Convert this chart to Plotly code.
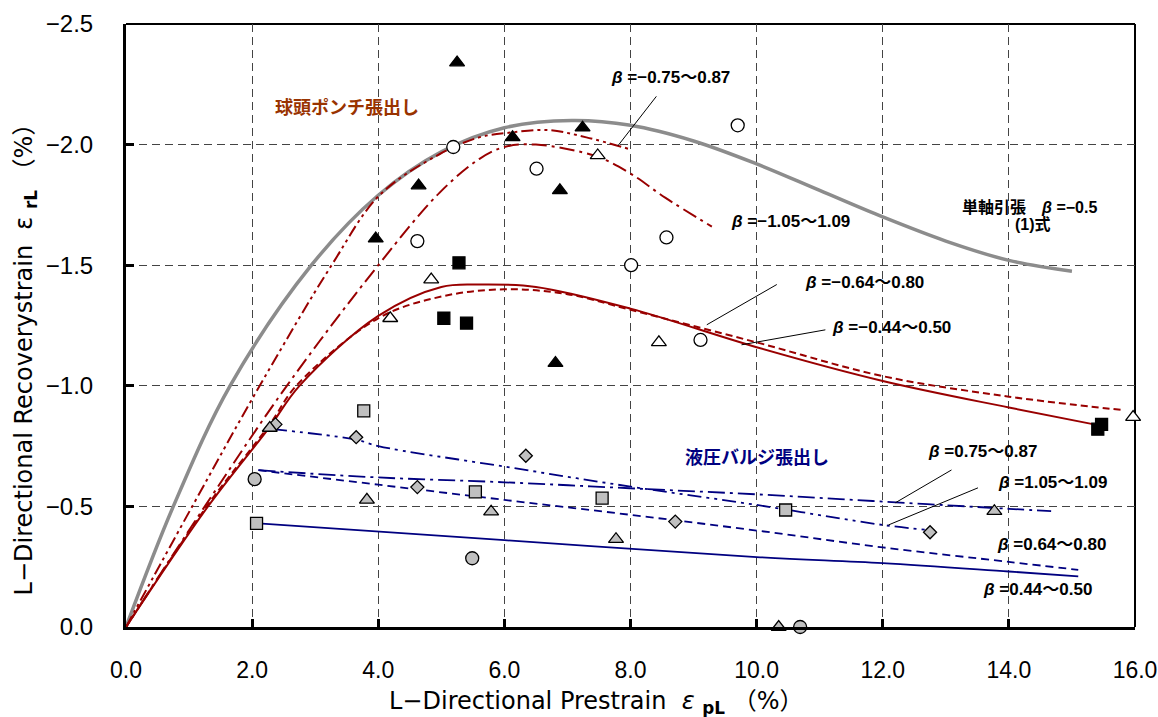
import plotly.graph_objects as go

# ---------------- curves (prestrain %, recovery strain %) ----------------
# uniaxial tension, eq.(1), beta = -0.5
uni_x = [0.0, 0.75, 1.65, 2.94, 4.0, 5.0, 6.0, 7.07, 8.0, 9.0, 10.0, 11.0, 12.0, 13.0, 14.0, 15.0]
uni_y = [0.0, -0.5, -1.0, -1.5, -1.79, -1.97, -2.07, -2.10, -2.08, -2.015, -1.92, -1.81, -1.70, -1.60, -1.52, -1.475]

# punch stretching, beta = -0.75..0.87 (dash-dot-dot)
p075_x = [0.0, 1.05, 2.12, 3.26, 4.02, 4.97, 5.6, 6.1, 6.7, 7.3, 8.0]
p075_y = [0.0, -0.5, -1.0, -1.5, -1.79, -1.96, -2.03, -2.05, -2.06, -2.03, -1.98]

# punch stretching, beta = -1.05..1.09 (dash-dot)
p105_x = [0.0, 1.25, 2.55, 4.0, 4.97, 5.6, 6.0, 6.5, 7.47, 8.0, 8.55, 9.29]
p105_y = [0.0, -0.5, -1.0, -1.5, -1.80, -1.94, -1.99, -2.0, -1.95, -1.88, -1.78, -1.66]

# punch stretching, beta = -0.64..0.80 (dashed)
p064_x = [0.0, 1.28, 2.28, 2.7, 4.0, 5.0, 6.0, 7.0, 8.0, 10.0, 12.0, 14.0, 15.78]
p064_y = [0.0, -0.5, -0.84, -1.0, -1.28, -1.37, -1.40, -1.38, -1.315, -1.18, -1.04, -0.955, -0.90]

# punch stretching, beta = -0.44..0.50 (solid)
p044_x = [0.0, 1.3, 2.28, 2.75, 4.0, 5.0, 5.6, 6.5, 8.0, 10.0, 12.0, 14.0, 15.35]
p044_y = [0.0, -0.5, -0.83, -1.0, -1.29, -1.41, -1.42, -1.41, -1.32, -1.16, -1.02, -0.91, -0.84]

# hydraulic bulge, beta = 0.44..0.50 (solid)
b044_x = [2.1, 6.0, 10.0, 12.0, 14.0, 15.1]
b044_y = [-0.43, -0.36, -0.29, -0.265, -0.23, -0.21]

# hydraulic bulge, beta = 0.64..0.80 (dashed)
b064_x = [2.1, 4.0, 6.0, 8.0, 10.0, 12.0, 14.0, 15.1]
b064_y = [-0.65, -0.59, -0.527, -0.465, -0.40, -0.33, -0.27, -0.237]

# hydraulic bulge, beta = 0.75..0.87 (dash-dot)
b075_x = [2.1, 4.0, 6.0, 8.0, 10.0, 12.0, 14.0, 14.67]
b075_y = [-0.65, -0.62, -0.60, -0.575, -0.55, -0.52, -0.49, -0.48]

# hydraulic bulge, beta = 1.05..1.09 (dash-dot-dot)
b105_x = [2.33, 3.66, 4.0, 6.0, 8.0, 10.0, 12.0, 12.72]
b105_y = [-0.82, -0.776, -0.75, -0.665, -0.582, -0.506, -0.423, -0.402]

# ---------------- measured points ----------------
# punch stretching
ptri_f_x = [5.25, 6.13, 7.24, 4.64, 6.88, 3.96, 6.81]
ptri_f_y = [-2.34, -2.03, -2.07, -1.83, -1.81, -1.61, -1.094]
pcir_o_x = [5.19, 6.51, 9.70, 4.62, 8.57, 8.01, 9.11]
pcir_o_y = [-1.99, -1.90, -2.08, -1.60, -1.615, -1.50, -1.19]
ptri_o_x = [7.48, 4.84, 4.19, 8.45, 15.97]
ptri_o_y = [-1.955, -1.44, -1.28, -1.18, -0.87]
psq_f_x = [5.28, 5.04, 5.40, 15.47, 15.41]
psq_f_y = [-1.51, -1.28, -1.26, -0.84, -0.82]

# hydraulic bulge
bsq_x = [3.77, 2.07, 5.54, 7.55, 10.46]
bsq_y = [-0.896, -0.43, -0.56, -0.534, -0.485]
bdia_x = [2.37, 3.65, 6.34, 4.62, 8.71, 12.75]
bdia_y = [-0.84, -0.787, -0.71, -0.58, -0.437, -0.393]
btri_x = [2.28, 3.82, 5.79, 7.77, 13.77, 10.35]
btri_y = [-0.825, -0.527, -0.478, -0.364, -0.48, 0.0]
bcir_x = [2.04, 5.49, 10.69]
bcir_y = [-0.613, -0.285, 0.0]

# axis ticks
x_ticks = [0, 2, 4, 6, 8, 10, 12, 14, 16]
y_ticks = [0.0, -0.5, -1.0, -1.5, -2.0, -2.5]

RED = "#990000"
BLUE = "#000080"
GRAYLINE = "#8c8c8c"
GRAYFILL = "#c0c0c0"

fig = go.Figure()


def curve(x, y, color, width, dash):
    fig.add_trace(go.Scatter(x=x, y=y, mode="lines",
                             line=dict(color=color, width=width, dash=dash,
                                       shape="spline", smoothing=1.0),
                             hoverinfo="skip", showlegend=False))


curve(uni_x, uni_y, GRAYLINE, 3.5, "solid")
curve(p075_x, p075_y, RED, 2, "12px,4px,3px,4px,3px,4px")
curve(p105_x, p105_y, RED, 2, "15px,5px,3px,5px")
curve(p064_x, p064_y, RED, 2, "7px,4px")
curve(p044_x, p044_y, RED, 2, "solid")
curve(b044_x, b044_y, BLUE, 1.8, "solid")
curve(b064_x, b064_y, BLUE, 1.8, "8px,5px")
curve(b075_x, b075_y, BLUE, 1.8, "17px,5px,3px,5px")
curve(b105_x, b105_y, BLUE, 1.8, "14px,5px,3px,5px,3px,5px")


def points(x, y, symbol, size, fill):
    fig.add_trace(go.Scatter(x=x, y=y, mode="markers", cliponaxis=False,
                             marker=dict(symbol=symbol, size=size, color=fill,
                                         line=dict(color="black", width=1.3)),
                             hoverinfo="skip", showlegend=False))


points(ptri_f_x, ptri_f_y, "triangle-up", 13, "black")
points(pcir_o_x, pcir_o_y, "circle", 13, "white")
points(ptri_o_x, ptri_o_y, "triangle-up", 13, "white")
points(psq_f_x, psq_f_y, "square", 12, "black")
points(bsq_x, bsq_y, "square", 12, GRAYFILL)
points(bdia_x, bdia_y, "diamond", 10, GRAYFILL)
points(btri_x, btri_y, "triangle-up", 13, GRAYFILL)
points(bcir_x, bcir_y, "circle", 13, GRAYFILL)

LAT = "Liberation Sans, Arial, Noto Sans CJK JP, sans-serif"
WIDE = "DejaVu Sans, Noto Sans CJK JP, sans-serif"
JP = "Noto Sans CJK JP, sans-serif"

annotations = []


def label(x, y, text, color="black", size=17, family=LAT):
    annotations.append(dict(x=x, y=y, xref="x", yref="y", text=text,
                            showarrow=False, xanchor="left", yanchor="middle",
                            font=dict(family=family, size=size, color=color)))


label(2.33, -2.158, "<b>球頭ポンチ張出し</b>", "#993300", 18, JP)
label(8.84, -0.71, "<b>液圧バルジ張出し</b>", BLUE, 18, JP)
label(7.66, -2.28, "<b><i>β</i> =−0.75〜0.87</b>")
label(9.56, -1.68, "<b><i>β</i> =−1.05〜1.09</b>")
label(10.74, -1.43, "<b><i>β</i> =−0.64〜0.80</b>")
label(11.17, -1.24, "<b><i>β</i> =−0.44〜0.50</b>")
label(12.69, -0.726, "<b><i>β</i> =0.75〜0.87</b>")
label(13.80, -0.598, "<b><i>β</i> =1.05〜1.09</b>")
label(13.78, -0.34, "<b><i>β</i> =0.64〜0.80</b>")
label(13.56, -0.154, "<b><i>β</i> =0.44〜0.50</b>")
label(13.23, -1.74, "<b>単軸引張　<i>β</i> =−0.5</b>", "black", 16)
label(14.07, -1.668, "<b>(1)式</b>", "black", 16)

# axis titles
annotations.append(dict(
    x=0.466, y=-0.126, xref="paper", yref="paper", showarrow=False,
    xanchor="center", yanchor="middle",
    text="L−Directional Prestrain  <i>ε</i> <b><sub>pL</sub></b> （%）",
    font=dict(family=WIDE, size=24, color="black")))
annotations.append(dict(
    x=-0.0999, y=0.454, xref="paper", yref="paper", showarrow=False,
    xanchor="center", yanchor="middle", textangle=-90,
    text="L−Directional Recoverystrain  ε <b><sub>rL</sub></b> （%）",
    font=dict(family=WIDE, size=24, color="black")))

# leader lines from labels to curves
leaders = [
    ((8.41, -2.20), (7.80, -1.995)),
    ((10.32, -1.42), (9.21, -1.253)),
    ((11.09, -1.232), (9.76, -1.17)),
    ((13.09, -0.651), (12.20, -0.515)),
    ((13.51, -0.577), (12.09, -0.423)),
]
shapes = []
for (xa, ya), (xb, yb) in leaders:
    shapes.append(dict(type="line", xref="x", yref="y", x0=xa, y0=ya, x1=xb, y1=yb,
                       line=dict(color="black", width=1)))
# top and right frame
shapes.append(dict(type="line", xref="paper", yref="paper", x0=0, y0=1, x1=1, y1=1,
                   line=dict(color="black", width=2), layer="between"))
shapes.append(dict(type="line", xref="paper", yref="paper", x0=1, y0=0, x1=1, y1=1,
                   line=dict(color="black", width=2), layer="between"))

fig.update_layout(
    width=1158, height=717,
    margin=dict(l=126, r=23, t=24, b=90, autoexpand=False),
    paper_bgcolor="white", plot_bgcolor="white",
    annotations=annotations, shapes=shapes,
    font=dict(family=LAT, size=23, color="black"),
)
fig.update_xaxes(
    range=[0, 16], tickmode="array", tickvals=x_ticks,
    ticktext=[f"{v:.1f}" for v in x_ticks], ticklabeloverflow="allow",
    automargin=False,
    showline=True, linecolor="black", linewidth=3,
    ticks="inside", ticklen=8, tickwidth=3, tickcolor="black",
    ticklabelstandoff=20,
    showgrid=True, gridcolor="#444444", gridwidth=1, griddash="8px,5px",
    zeroline=False, tickfont=dict(size=23, family=LAT, color="black"),
)
fig.update_yaxes(
    range=[0, -2.5], tickmode="array", tickvals=y_ticks,
    ticktext=[f"{v:.1f}".replace("-", "−") for v in y_ticks],
    automargin=False,
    showline=True, linecolor="black", linewidth=3,
    ticks="inside", ticklen=8, tickwidth=3, tickcolor="black",
    ticklabelstandoff=25,
    showgrid=True, gridcolor="#444444", gridwidth=1, griddash="8px,5px",
    zeroline=False, tickfont=dict(size=24, family=LAT, color="black"),
)

fig.write_html("out.html")
